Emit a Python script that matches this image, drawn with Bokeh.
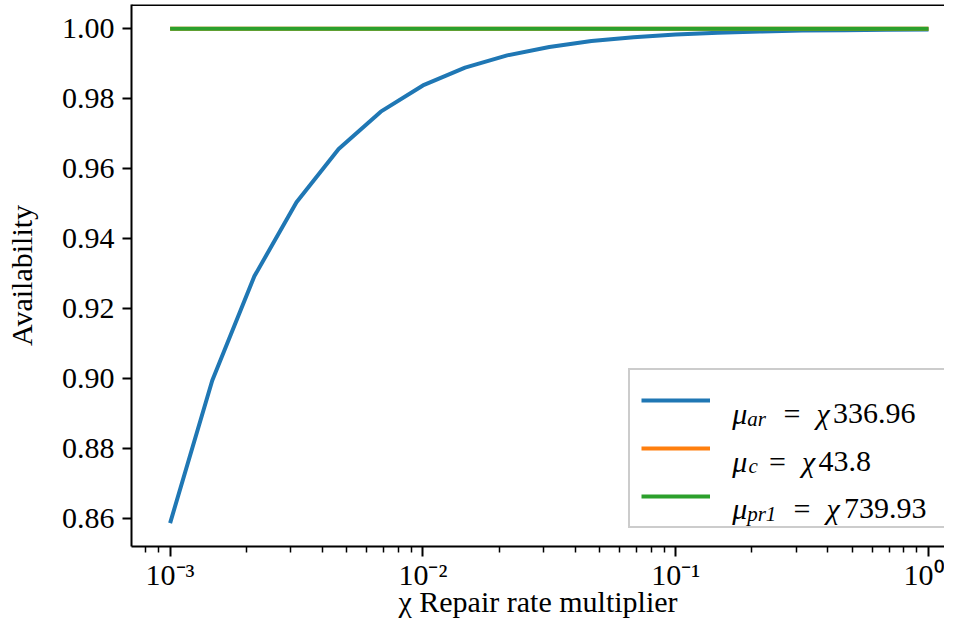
from bokeh.plotting import figure
from bokeh.models import (Range1d, FixedTicker, CustomJSTickFormatter, Legend,
                          LegendItem, Label, Span)
from bokeh.embed import file_html
from bokeh.resources import INLINE

# ---------------- data ----------------
chi = [0.001, 0.001468, 0.002154, 0.003162, 0.004642, 0.006813,
       0.01, 0.01468, 0.02154, 0.03162, 0.04642, 0.06813,
       0.1, 0.1468, 0.2154, 0.3162, 0.4642, 0.6813, 1.0]
avail_ar = [0.8586, 0.8994, 0.9292, 0.9504, 0.9656, 0.9763,
            0.9838, 0.9889, 0.9924, 0.9948, 0.9965, 0.9976,
            0.9984, 0.9989, 0.9992, 0.9995, 0.9996, 0.9997, 0.9998]
avail_c = [1.0, 1.0, 1.0, 1.0, 1.0, 1.0, 1.0, 1.0, 1.0, 1.0,
           1.0, 1.0, 1.0, 1.0, 1.0, 1.0, 1.0, 1.0, 1.0]
avail_pr1 = [1.0, 1.0, 1.0, 1.0, 1.0, 1.0, 1.0, 1.0, 1.0, 1.0,
             1.0, 1.0, 1.0, 1.0, 1.0, 1.0, 1.0, 1.0, 1.0]
y_ticks = [0.86, 0.88, 0.90, 0.92, 0.94, 0.96, 0.98, 1.00]
x_ticks = [0.001, 0.01, 0.1, 1.0]
series_names = ["ar", "c", "pr1"]
series_rates = ["336.96", "43.8", "739.93"]
colors = ["#1f77b4", "#ff7f0e", "#2ca02c"]
x_title = "\u03c7 Repair rate multiplier"
y_title = "Availability"

FONT = "Liberation Serif"
FS = "30px"

Y_TOP = 1.00695
Y_BOTTOM = 0.85192

p = figure(width=944, height=621, x_axis_type="log",
           x_range=Range1d(10 ** -3.1527, 10 ** 0.0633),
           y_range=Range1d(Y_BOTTOM, Y_TOP),
           output_backend="svg", toolbar_location=None,
           min_border_left=131, min_border_right=0,
           min_border_top=4, min_border_bottom=75)

p.background_fill_color = "white"
p.border_fill_color = "white"
p.grid.visible = False
p.outline_line_color = None

r1 = p.line(chi, avail_ar, line_color=colors[0], line_width=4)
r2 = p.line(chi, avail_c, line_color=colors[1], line_width=4)
r3 = p.line(chi, avail_pr1, line_color=colors[2], line_width=4)

# top spine
p.add_layout(Span(location=Y_TOP - 0.00015, dimension="width",
                  line_color="black", line_width=2))

minor = []
for d in [0.0001, 0.001, 0.01, 0.1]:
    for m in range(2, 10):
        minor.append(m * d)
p.xaxis.ticker = FixedTicker(ticks=x_ticks, minor_ticks=minor)
p.xaxis.formatter = CustomJSTickFormatter(code="""
const e = Math.round(Math.log10(tick));
const sup = {"-": "\u207b", "0": "\u2070", "1": "\u00b9", "2": "\u00b2", "3": "\u00b3"};
return "10" + String(e).split("").map(c => sup[c]).join("");
""")
p.yaxis.ticker = FixedTicker(ticks=y_ticks, minor_ticks=[])
p.yaxis.formatter = CustomJSTickFormatter(code="return tick.toFixed(2);")

for ax in [p.xaxis[0], p.yaxis[0]]:
    ax.axis_line_width = 2
    ax.axis_line_color = "black"
    ax.major_tick_line_width = 2
    ax.major_tick_out = 10
    ax.major_tick_in = 0
    ax.minor_tick_line_width = 1.5
    ax.minor_tick_out = 6
    ax.minor_tick_in = 0
    ax.major_label_text_font = FONT
    ax.major_label_text_font_size = FS
    ax.major_label_text_color = "black"
    ax.axis_label_text_font = FONT
    ax.axis_label_text_font_size = FS
    ax.axis_label_text_font_style = "normal"
    ax.axis_label_text_color = "black"

p.xaxis.axis_label = x_title
p.yaxis.axis_label = y_title
p.xaxis.major_label_standoff = 1
p.xaxis.axis_label_standoff = -9
p.yaxis.major_tick_out = 9
p.yaxis.major_label_standoff = 8
p.yaxis.axis_label_standoff = 21

FRAME_LEFT = 131
FRAME_BOTTOM = 546

# legend box and handles
legend = Legend(items=[LegendItem(label=" ", renderers=[r]) for r in (r1, r2, r3)],
                location=(497, 18), margin=0, padding=11, spacing=10,
                glyph_width=69, glyph_height=38, label_height=38,
                label_width=200, label_standoff=23,
                label_text_font_size="10px",
                border_line_color="#cccccc", border_line_width=2,
                border_line_alpha=1.0,
                background_fill_color="white", background_fill_alpha=0.0)
p.add_layout(legend)

# legend math-like texts (screen units relative to frame)
baselines = [413.3, 460.8, 508.3]
piece_x = [
    [731.7, 746.7, 783.0, 816.0, 832.5],
    [731.7, 748.0, 768.5, 801.5, 818.0],
    [731.7, 746.7, 793.0, 826.0, 843.5],
]
for i in range(3):
    by = FRAME_BOTTOM - baselines[i]
    xs = [x - FRAME_LEFT for x in piece_x[i]]
    parts = [("\u03bc", "italic", FS, 0),
             (series_names[i], "italic", "21px", -5),
             ("=", "normal", FS, 0),
             ("\u03c7", "italic", FS, 0),
             (series_rates[i], "normal", FS, 0)]
    for (txt, style, size, dy), x in zip(parts, xs):
        p.add_layout(Label(x=x, y=by + dy, x_units="screen", y_units="screen",
                           text=txt, text_font=FONT, text_font_size=size,
                           text_font_style=style, text_color="black",
                           text_baseline="alphabetic", text_align="left",
                           level="overlay"))

html = file_html(p, INLINE, title="Availability vs repair rate multiplier")
open("out.html", "w").write(html)
